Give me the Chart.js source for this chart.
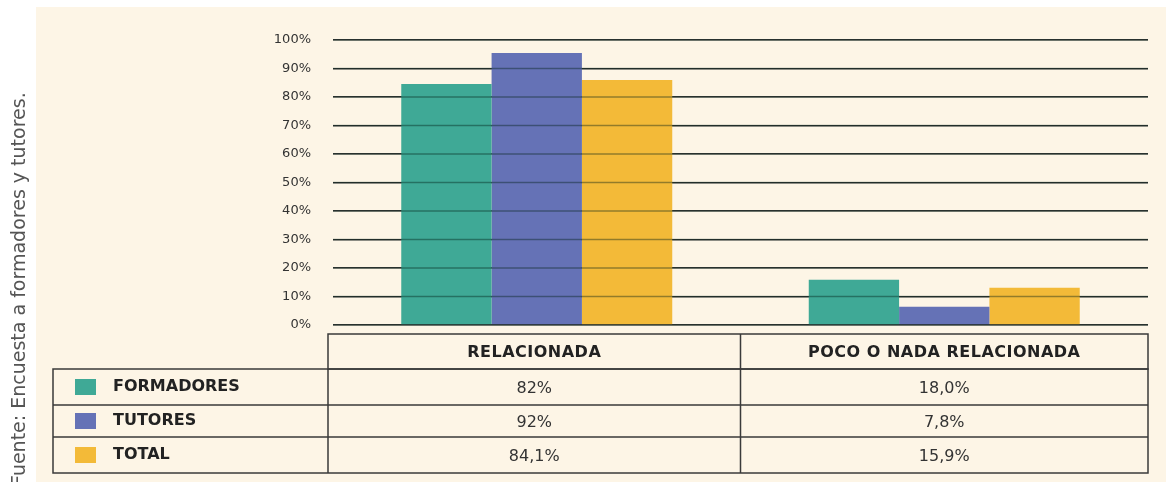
<!DOCTYPE html>
<html lang="es">
<head>
<meta charset="utf-8">
<title>Relación de la formación</title>
<script src="https://cdn.jsdelivr.net/npm/chart.js@4.4.1/dist/chart.umd.min.js"></script>
<style>
  body { margin: 0; background: #ffffff; }
  #panel { position: absolute; left: 36px; top: 7px; width: 1130px; height: 475px; background: #fdf5e6; }
  #grafico { position: absolute; left: 0; top: 0; }
</style>
</head>
<body>
<div id="panel"></div>
<canvas id="grafico" width="1171" height="482"></canvas>
<script>
// datos
const categorias = ["RELACIONADA", "POCO O NADA RELACIONADA"];
const series = ["FORMADORES", "TUTORES", "TOTAL"];
const formadores = [84.6, 15.9];
const tutores = [95.4, 6.4];
const total = [86.0, 13.1];

// textos de la tabla
const tablaFormadores = ["82%", "18,0%"];
const tablaTutores = ["92%", "7,8%"];
const tablaTotal = ["84,1%", "15,9%"];

const ticksY = [0, 10, 20, 30, 40, 50, 60, 70, 80, 90, 100];
const colores = ["#3fa996", "#6572b6", "#f3ba38"];
const fuente = "Fuente: Encuesta a formadores y tutores.";

Chart.defaults.font.family = "DejaVu Sans";

// tabla de datos y texto de la fuente debajo del grafico
const tablaPlugin = {
  id: "tabla",
  afterDraw(chart) {
    const ctx = chart.ctx;
    const x = chart.scales.x;
    const area = chart.chartArea;
    const ancho = x.getPixelForValue(1) - x.getPixelForValue(0);
    const cols = [area.left - 5, x.getPixelForValue(0) + ancho / 2, area.right];
    const filas = [334, 369, 405, 437, 473];
    const izq = 53;
    const valores = [tablaFormadores, tablaTutores, tablaTotal];

    ctx.save();
    ctx.strokeStyle = "#3a3a3a";
    ctx.lineWidth = 1.5;

    //cabecera
    ctx.strokeRect(cols[0], filas[0], cols[2] - cols[0], filas[1] - filas[0]);
    //cuerpo
    ctx.strokeRect(izq, filas[1], cols[2] - izq, filas[4] - filas[1]);
    ctx.beginPath();
    ctx.moveTo(izq, filas[2]); ctx.lineTo(cols[2], filas[2]);
    ctx.moveTo(izq, filas[3]); ctx.lineTo(cols[2], filas[3]);
    ctx.moveTo(cols[0], filas[1]); ctx.lineTo(cols[0], filas[4]);
    ctx.moveTo(cols[1], filas[0]); ctx.lineTo(cols[1], filas[4]);
    ctx.stroke();

    ctx.textBaseline = "middle";
    ctx.fillStyle = "#222";
    ctx.font = "bold 16px 'DejaVu Sans'";
    ctx.letterSpacing = "0.5px";
    ctx.textAlign = "center";
    categorias.forEach((c, i) => {
      ctx.fillText(c, (cols[i] + cols[i + 1]) / 2, (filas[0] + filas[1]) / 2 + 1);
    });

    series.forEach((s, r) => {
      const yc = (filas[r + 1] + filas[r + 2]) / 2;
      ctx.fillStyle = colores[r];
      ctx.fillRect(75, yc - 8, 21, 16);
      ctx.fillStyle = "#222";
      ctx.font = "bold 16px 'DejaVu Sans'";
      ctx.letterSpacing = "0px";
      ctx.textAlign = "left";
      ctx.fillText(s, 113, yc);
      ctx.font = "16px 'DejaVu Sans'";
      ctx.fillStyle = "#333";
      ctx.textAlign = "center";
      valores[r].forEach((v, i) => {
        ctx.fillText(v, (cols[i] + cols[i + 1]) / 2, yc + 2);
      });
    });

    //fuente en vertical
    ctx.translate(25, 486);
    ctx.rotate(-Math.PI / 2);
    ctx.textAlign = "left";
    ctx.textBaseline = "alphabetic";
    ctx.font = "19px 'DejaVu Sans'";
    ctx.fillStyle = "#555";
    ctx.fillText(fuente, 0, 0);
    ctx.restore();
  },
};

// lineas de la rejilla por encima de las barras
const rejillaPlugin = {
  id: "rejilla",
  afterDatasetsDraw(chart) {
    const ctx = chart.ctx;
    const y = chart.scales.y;
    const area = chart.chartArea;
    ctx.save();
    ctx.strokeStyle = "rgba(0, 30, 20, 0.4)";
    ctx.lineWidth = 1.5;
    ticksY.forEach((t) => {
      const py = y.getPixelForValue(t);
      ctx.beginPath();
      ctx.moveTo(area.left, py);
      ctx.lineTo(area.right, py);
      ctx.stroke();
    });
    ctx.restore();
  },
};

new Chart(document.getElementById("grafico"), {
  type: "bar",
  data: {
    labels: categorias,
    datasets: [
      { label: series[0], data: formadores, backgroundColor: colores[0] },
      { label: series[1], data: tutores, backgroundColor: colores[1] },
      { label: series[2], data: total, backgroundColor: colores[2] },
    ],
  },
  options: {
    responsive: false,
    animation: false,
    layout: {
      padding: { left: 0, top: 40, right: 23, bottom: 157 },
    },
    datasets: {
      bar: {
        categoryPercentage: 0.665,
        barPercentage: 1,
      },
    },
    plugins: {
      legend: { display: false },
      tooltip: { enabled: false },
    },
    scales: {
      x: {
        display: false,
      },
      y: {
        min: 0,
        max: 100,
        afterFit(scale) {
          scale.width = 333;
        },
        afterBuildTicks(scale) {
          scale.ticks = ticksY.map((v) => ({ value: v }));
        },
        ticks: {
          padding: 22,
          color: "#333",
          font: { size: 13 },
          callback: (v) => v + "%",
        },
        grid: {
          color: "#3a3a3a",
          lineWidth: 1.5,
          drawTicks: false,
        },
        border: { display: false },
      },
    },
  },
  plugins: [tablaPlugin, rejillaPlugin],
});
</script>
</body>
</html>
